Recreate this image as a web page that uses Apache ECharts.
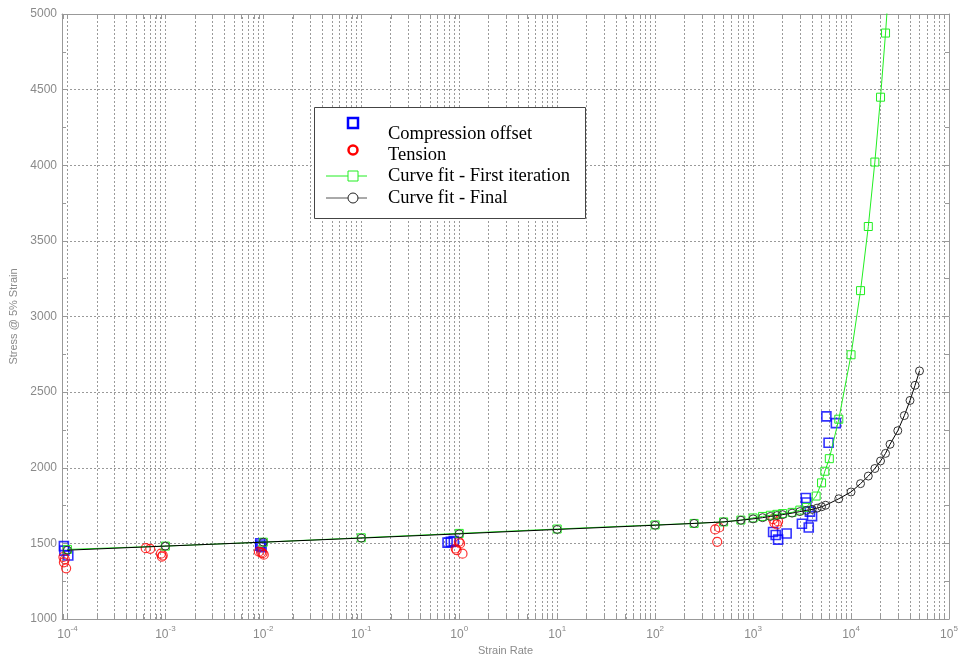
<!DOCTYPE html>
<html><head><meta charset="utf-8">
<script src="https://cdn.jsdelivr.net/npm/echarts@6/dist/echarts.min.js"></script>
<style>html,body{margin:0;padding:0;background:#fff;overflow:hidden}#c{width:959px;height:655px}</style>
</head><body><div id="c"></div>
<script>
// ---- data (strain rate in 1/s, stress) ----
const xTickExponents = [-4, -3, -2, -1, 0, 1, 2, 3, 4, 5];
const yTickValues = [1000, 1500, 2000, 2500, 3000, 3500, 4000, 4500, 5000];

const compRate   = [0.92e-4, 0.93e-4, 1.02e-4, 9.3e-3, 9.3e-3, 9.6e-3, 0.76, 0.82, 0.88, 1600, 1700, 1800, 2200, 3150, 3450, 3500, 3700, 3800, 4000, 5600, 5900, 7000];
const compStress = [1482, 1452, 1420, 1500, 1485, 1475, 1505, 1510, 1515, 1575, 1555, 1525, 1565, 1630, 1800, 1770, 1605, 1710, 1680, 2340, 2165, 2295];

const tensRate   = [0.91e-4, 0.94e-4, 0.92e-4, 0.97e-4, 6.3e-4, 7.0e-4, 9.0e-4, 9.4e-4, 9.2e-4, 9.0e-3, 9.8e-3, 1.01e-2, 9.5e-3, 0.99, 1.02, 0.92, 0.94, 1.08, 410, 450, 430, 1600, 1650, 1750, 1800];
const tensStress = [1410, 1395, 1375, 1335, 1468, 1464, 1432, 1420, 1412, 1445, 1435, 1425, 1440, 1510, 1500, 1466, 1455, 1432, 1592, 1605, 1510, 1660, 1635, 1625, 1645];

const fit1Rate   = [1e-4, 1e-3, 1e-2, 0.1, 1, 10, 100, 250, 500, 750, 1000, 1250, 1500, 1750, 2000, 2500, 3000, 3500, 4400, 5000, 5400, 6000, 7500, 10000, 12500, 15000, 17500, 20000, 22500, 25000];
const fit1Stress = [1460, 1482, 1508, 1537, 1566, 1595, 1622, 1632, 1642, 1654, 1668, 1678, 1686, 1692, 1697, 1705, 1720, 1738, 1813, 1900, 1977, 2060, 2321, 2747, 3171, 3595, 4021, 4450, 4874, 5300];

const finalRate   = [1e-4, 1e-3, 1e-2, 0.1, 1, 10, 100, 250, 500, 750, 1000, 1250, 1500, 1750, 2000, 2500, 3000, 3500, 4000, 4500, 5000, 5500, 7500, 10000, 12500, 15000, 17500, 20000, 22500, 25000, 30000, 35000, 40000, 45000, 50000];
const finalStress = [1455, 1482, 1508, 1535, 1563, 1592, 1620, 1632, 1642, 1653, 1662, 1670, 1678, 1684, 1690, 1700, 1710, 1718, 1725, 1733, 1742, 1752, 1795, 1840, 1895, 1945, 1995, 2045, 2095, 2155, 2245, 2345, 2445, 2545, 2640];

// ---- helpers ----
const L = Math.log10;
const xMin = -4.0555, xMax = 5;
const toPts = (r, s) => r.map((v, i) => [L(v), s[i]]);

const gridLogs = [L(9e-5)];
for (let i = 0; i < xTickExponents.length - 1; i++) {
  for (let k = 1; k <= 9; k++) gridLogs.push(L(k * Math.pow(10, xTickExponents[i])));
}
gridLogs.push(xTickExponents[xTickExponents.length - 1]);

const GRAY = '#999';
const LBL = '#8a8a8a';
const GRID = '#9a9a9a';
const chart = echarts.init(document.getElementById('c'), null, {renderer: 'canvas', width: 959, height: 655});

const xAxisCommon = {
  type: 'value', min: xMin, max: xMax,
  axisLine: {show: true, onZero: false, lineStyle: {color: GRAY, width: 1}},
  splitLine: {show: false},
  axisTick: {show: true, inside: true, length: 5, customValues: gridLogs, lineStyle: {color: GRAY}}
};
const yAxisCommon = {
  type: 'value', min: yTickValues[0], max: yTickValues[yTickValues.length - 1], interval: 500,
  axisLine: {show: true, onZero: false, lineStyle: {color: GRAY}},
  axisTick: {show: true, inside: true, length: 5, lineStyle: {color: GRAY}},
  minorTick: {show: true, splitNumber: 2, length: 4, lineStyle: {color: GRAY}}
};

const option = {
  animation: false,
  grid: {left: 62, right: 10, top: 14, bottom: 36, containLabel: false, outerBoundsMode: 'none'},
  xAxis: [
    Object.assign({}, xAxisCommon, {
      position: 'bottom',
      name: 'Strain Rate', nameLocation: 'middle', nameGap: 24,
      nameTextStyle: {color: LBL, fontSize: 11, fontFamily: 'Liberation Sans'},
      axisLabel: {
        show: true, margin: 6, customValues: xTickExponents,
        formatter: v => '{b|10}{s|' + Math.round(v) + '}',
        rich: {
          b: {fontSize: 12, color: LBL, fontFamily: 'Liberation Sans', verticalAlign: 'bottom', lineHeight: 16},
          s: {fontSize: 8, color: LBL, fontFamily: 'Liberation Sans', verticalAlign: 'top', lineHeight: 16}
        }
      }
    }),
    Object.assign({}, xAxisCommon, {position: 'top', axisLabel: {show: false}})
  ],
  yAxis: [
    Object.assign({}, yAxisCommon, {
      position: 'left',
      name: 'Stress @ 5% Strain', nameLocation: 'middle', nameGap: 35, nameRotate: 90,
      nameTextStyle: {color: LBL, fontSize: 11, fontFamily: 'Liberation Sans'},
      axisLabel: {color: LBL, fontSize: 12, fontFamily: 'Liberation Sans', margin: 5, formatter: v => String(v)},
      splitLine: {show: true, lineStyle: {color: GRID, type: [2, 2], width: 1}}
    }),
    Object.assign({}, yAxisCommon, {
      position: 'right',
      axisLabel: {show: false},
      splitLine: {show: false}
    })
  ],
  series: [
    {
      name: 'grid', type: 'line', data: [[xMin, 1000]], showSymbol: false, symbol: 'none',
      lineStyle: {opacity: 0}, silent: true, z: 0,
      markLine: {
        silent: true, symbol: 'none', z: 0, animation: false,
        label: {show: false},
        lineStyle: {color: GRID, type: [2, 2], width: 1},
        data: gridLogs.map(v => ({xAxis: v}))
      }
    },
    {
      name: 'Compression offset', type: 'scatter', data: toPts(compRate, compStress),
      symbol: 'rect', symbolSize: 9, z: 3,
      itemStyle: {color: 'rgba(0,0,0,0)', borderColor: '#0000ff', borderWidth: 1.6}
    },
    {
      name: 'Tension', type: 'scatter', data: toPts(tensRate, tensStress),
      symbol: 'circle', symbolSize: 9, z: 3,
      itemStyle: {color: 'rgba(0,0,0,0)', borderColor: '#ff0000', borderWidth: 1.2}
    },
    {
      name: 'Curve fit - First iteration', type: 'line', data: toPts(fit1Rate, fit1Stress),
      symbol: 'rect', symbolSize: 8, showAllSymbol: true, clip: true, z: 4,
      lineStyle: {color: '#22ee22', width: 1},
      itemStyle: {color: 'rgba(0,0,0,0)', borderColor: '#22ee22', borderWidth: 1}
    },
    {
      name: 'Curve fit - Final', type: 'line', data: toPts(finalRate, finalStress),
      symbol: 'circle', symbolSize: 8, showAllSymbol: true, clip: true, z: 5,
      lineStyle: {color: '#000', width: 1},
      itemStyle: {color: 'rgba(0,0,0,0)', borderColor: '#333', borderWidth: 1}
    }
  ],
  graphic: [
    {type: 'rect', left: 314, top: 107, z: 100, shape: {width: 271, height: 111},
     style: {fill: '#fff', stroke: '#444', lineWidth: 1}},
    {type: 'rect', z: 101, shape: {x: 348, y: 118, width: 10, height: 10},
     style: {fill: 'none', stroke: '#0000ff', lineWidth: 2.5}},
    {type: 'circle', z: 101, shape: {cx: 353, cy: 150, r: 4.5},
     style: {fill: 'none', stroke: '#ff0000', lineWidth: 2.5}},
    {type: 'line', z: 101, shape: {x1: 326, y1: 176, x2: 367, y2: 176}, style: {stroke: '#22ee22', lineWidth: 1}},
    {type: 'rect', z: 102, shape: {x: 348, y: 171, width: 10, height: 10},
     style: {fill: '#fff', stroke: '#22ee22', lineWidth: 1}},
    {type: 'line', z: 101, shape: {x1: 326, y1: 198, x2: 367, y2: 198}, style: {stroke: '#555', lineWidth: 1}},
    {type: 'circle', z: 102, shape: {cx: 353, cy: 198, r: 5},
     style: {fill: '#fff', stroke: '#222', lineWidth: 1}},
    {type: 'text', z: 101, x: 388, y: 134, style: {text: 'Compression offset', fill: '#000', font: '18.5px "Liberation Serif"', verticalAlign: 'middle'}},
    {type: 'text', z: 101, x: 388, y: 155, style: {text: 'Tension', fill: '#000', font: '18.5px "Liberation Serif"', verticalAlign: 'middle'}},
    {type: 'text', z: 101, x: 388, y: 176, style: {text: 'Curve fit - First iteration', fill: '#000', font: '18.5px "Liberation Serif"', verticalAlign: 'middle'}},
    {type: 'text', z: 101, x: 388, y: 198, style: {text: 'Curve fit - Final', fill: '#000', font: '18.5px "Liberation Serif"', verticalAlign: 'middle'}}
  ]
};
chart.setOption(option);
</script>
</body></html>
